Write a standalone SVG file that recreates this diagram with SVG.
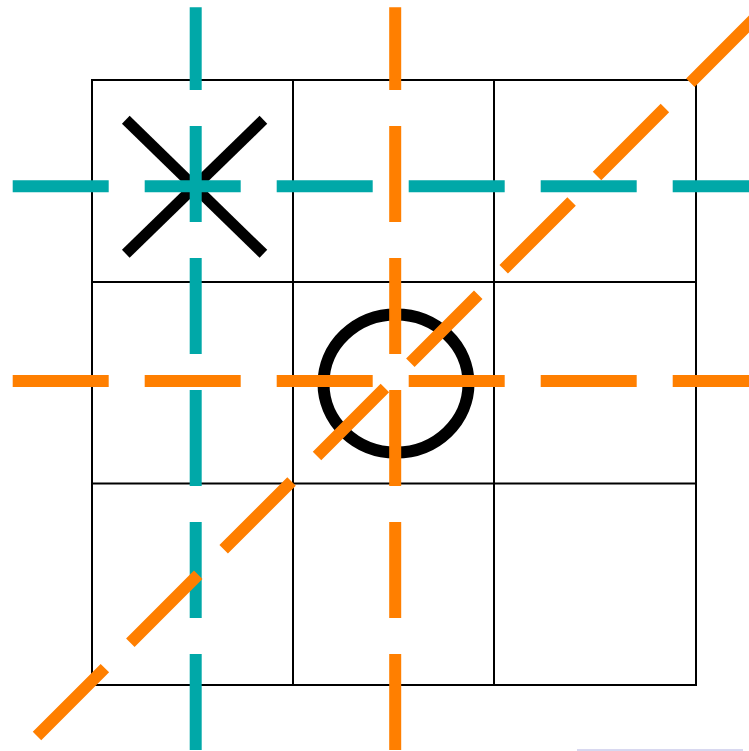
<svg xmlns="http://www.w3.org/2000/svg" width="749" height="751" viewBox="0 0 749 751">
  <style>
    .grid { stroke: #000; stroke-width: 2; fill: none; }
    .mark { stroke: #000; stroke-width: 11; fill: none; }
    .dash { stroke-width: 12; stroke-dasharray: 96 36; fill: none; }
    .teal { stroke: #00A8A8; }
    .orange { stroke: #FF7F00; }
  </style>
  <rect width="749" height="751" fill="#fff"/>
  <g id="grid">
    <rect class="grid" x="92" y="80" width="604" height="605"/>
    <line class="grid" x1="293" y1="80" x2="293" y2="685"/>
    <line class="grid" x1="494" y1="80" x2="494" y2="685"/>
    <line class="grid" x1="92" y1="282" x2="696" y2="282"/>
    <line class="grid" x1="92" y1="483.5" x2="696" y2="483.5"/>
  </g>
  <g id="x-mark">
    <line class="mark" x1="125.8" y1="119.8" x2="263.4" y2="253.8"/>
    <line class="mark" x1="263.4" y1="119.8" x2="125.8" y2="253.8"/>
  </g>
  <g id="o-mark">
    <ellipse class="mark" cx="396" cy="383.5" rx="72.5" ry="69" style="stroke-width:12"/>
  </g>
  <g id="connectors">
    <line class="dash teal" x1="195.7" y1="750" x2="195.7" y2="7.3"/>
    <line class="dash teal" x1="12.7" y1="186.2" x2="760" y2="186.2"/>
    <line class="dash orange" x1="395.2" y1="750" x2="395.2" y2="7.3"/>
    <line class="dash orange" x1="12.7" y1="381" x2="760" y2="381"/>
    <line class="dash orange" x1="37" y1="736" x2="770" y2="3"/>
  </g>
  <line x1="577" y1="750" x2="743" y2="750" stroke="#b0b0e0" stroke-width="1"/>
</svg>
